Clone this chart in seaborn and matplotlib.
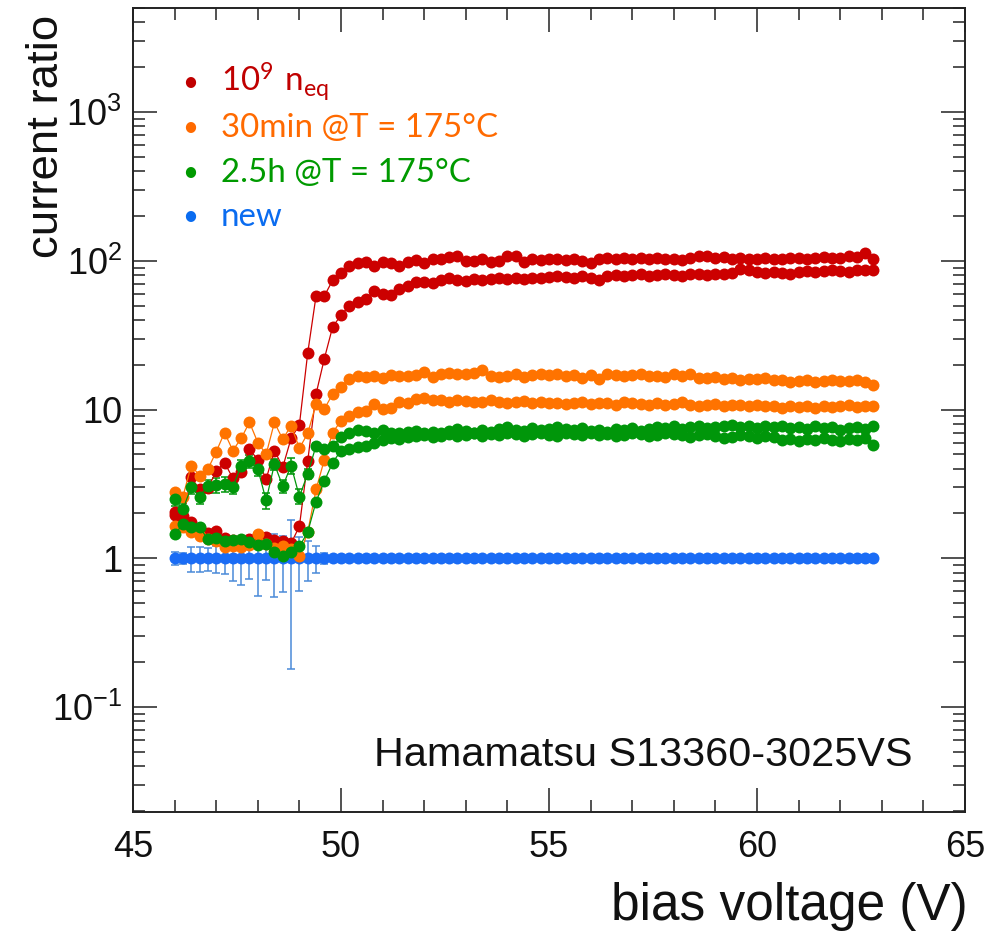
import numpy as np
import pandas as pd
import matplotlib
matplotlib.use("Agg")
import matplotlib.pyplot as plt
import matplotlib.ticker as mticker
from matplotlib import font_manager
import seaborn as sns

# ---------------- data ----------------
voltage = [46.0, 46.2, 46.4, 46.6, 46.8, 47.0, 47.2, 47.4, 47.6, 47.8,
           48.0, 48.2, 48.4, 48.6, 48.8, 49.0, 49.2, 49.4, 49.6, 49.8,
           50.0, 50.2, 50.4, 50.6, 50.8, 51.0, 51.2, 51.4, 51.6, 51.8,
           52.0, 52.2, 52.4, 52.6, 52.8, 53.0, 53.2, 53.4, 53.6, 53.8,
           54.0, 54.2, 54.4, 54.6, 54.8, 55.0, 55.2, 55.4, 55.6, 55.8,
           56.0, 56.2, 56.4, 56.6, 56.8, 57.0, 57.2, 57.4, 57.6, 57.8,
           58.0, 58.2, 58.4, 58.6, 58.8, 59.0, 59.2, 59.4, 59.6, 59.8,
           60.0, 60.2, 60.4, 60.6, 60.8, 61.0, 61.2, 61.4, 61.6, 61.8,
           62.0, 62.2, 62.4, 62.6, 62.8]

irrad_a = [2.04, 1.92, 3.5, 2.9, 2.96, 3.85, 4.4, 3.45, 3.8, 5.4,
           4.6, 3.4, 5.3, 4.1, 6.4, 7.9, 24, 58, 58, 74,
           83, 92, 97, 98, 92, 98, 96, 92, 98, 101,
           96, 103, 103, 106, 108, 100, 100, 102, 98, 100,
           108, 108, 98, 102, 101, 103, 102, 101, 103, 99,
           96, 103, 104, 103, 104, 102, 105, 103, 104, 102,
           103, 101, 104, 108, 107, 105, 106, 102, 104, 103,
           102, 104, 103, 102, 104, 105, 103, 104, 106, 104,
           105, 107, 106, 112, 103]
irrad_b = [1.95, 1.85, 1.75, 1.6, 1.47, 1.52, 1.36, 1.33, 1.3, 1.35,
           1.43, 1.38, 1.32, 1.3, 1.26, 1.64, 4.5, 12.7, 22, 36,
           43, 50, 53, 55, 63, 60, 59, 65, 68, 72,
           72, 71, 74, 76, 74, 73, 75, 74, 75, 76,
           75, 76, 75, 76, 77, 78, 79, 78, 77, 79,
           76, 74, 79, 80, 79, 80, 81, 79, 80, 81,
           80, 79, 81, 82, 80, 81, 82, 83, 88, 86,
           84, 83, 84, 83, 81, 84, 85, 84, 85, 86,
           85, 84, 86, 87, 87]
ann30_a = [2.78, 2.6, 4.2, 3.6, 3.97, 5.2, 7.0, 5.3, 6.4, 8.2,
           6.0, 5.0, 8.2, 6.3, 7.8, 5.5, 6.9, 10.9, 10.1, 12.7,
           14.2, 16.1, 16.8, 16.5, 16.8, 16.4, 17.0, 16.7, 16.9, 17.1,
           17.9, 16.5, 17.2, 17.6, 17.4, 17.3, 17.6, 18.5, 16.9, 16.5,
           16.9, 17.3, 16.6, 17.0, 17.4, 17.1, 17.2, 16.8, 17.0, 16.3,
           17.1, 16.1, 17.3, 17.1, 16.7, 17.0, 17.4, 16.8, 16.9, 16.6,
           17.2, 16.9, 17.2, 16.4, 16.2, 16.6, 16.0, 16.2, 15.8, 16.0,
           16.1, 16.3, 15.9, 15.7, 15.4, 15.6, 15.9, 15.3, 15.6, 15.9,
           15.5, 15.6, 15.8, 15.3, 14.7]
ann30_b = [1.64, 1.62, 1.5, 1.41, 1.35, 1.3, 1.19, 1.2, 1.19, 1.22,
           1.45, 1.25, 1.18, 1.2, 1.15, 1.03, 1.5, 2.9, 4.6, 7.0,
           8.4, 9.0, 9.6, 9.8, 10.9, 10.1, 10.3, 11.2, 11.1, 11.7,
           11.9, 11.6, 11.5, 11.3, 11.6, 11.4, 11.2, 11.3, 11.5, 11.2,
           11.0, 11.3, 11.4, 11.1, 11.3, 11.0, 11.1, 10.9, 11.0, 11.2,
           10.9, 11.1, 11.0, 10.8, 11.2, 11.0, 10.9, 10.7, 11.0, 10.8,
           10.9, 11.3, 10.8, 10.5, 10.8, 10.9, 10.6, 10.7, 10.8, 10.6,
           10.7, 10.5, 10.6, 10.3, 10.6, 10.4, 10.5, 10.3, 10.6, 10.4,
           10.5, 10.7, 10.4, 10.5, 10.6]
ann150_a = [2.5, 2.14, 3.0, 2.6, 3.06, 3.1, 3.15, 3.0, 4.2, 4.5,
            4.0, 2.45, 4.3, 3.05, 4.2, 2.6, 3.7, 5.7, 5.4, 5.7,
            6.5, 7.0, 7.3, 7.2, 7.0, 7.3, 7.0, 6.9, 7.1, 7.2,
            7.0, 7.1, 6.9, 7.2, 7.4, 7.2, 7.0, 7.3, 7.1, 7.4,
            7.6, 7.3, 7.2, 7.5, 7.3, 7.4, 7.6, 7.4, 7.3, 7.5,
            7.2, 7.3, 7.1, 7.4, 7.3, 7.5, 7.2, 7.4, 7.6, 7.5,
            7.7, 7.4, 7.6, 7.8, 7.5, 7.6, 7.7, 7.9, 7.6, 7.7,
            7.5, 7.8, 7.6, 7.7, 7.5, 7.6, 7.4, 7.7, 7.5, 7.6,
            7.3, 7.5, 7.6, 7.4, 7.7]
ann150_a_err = [0.25, 0.2, 0.3, 0.3, 0.3, 0.35, 0.35, 0.3, 0.4, 0.45,
                0.4, 0.3, 0.35, 0.3, 0.5, 0.3, 0.3, 0.3, 0.2, 0.1,
                0.1, 0.1, 0.1, 0.1, 0.1, 0.1, 0.1, 0.1, 0.1, 0.1,
                0.1, 0.1, 0.1, 0.1, 0.1, 0.1, 0.1, 0.1, 0.1, 0.1,
                0.1, 0.1, 0.1, 0.1, 0.1, 0.1, 0.1, 0.1, 0.1, 0.1,
                0.1, 0.1, 0.1, 0.1, 0.1, 0.1, 0.1, 0.1, 0.1, 0.1,
                0.1, 0.1, 0.1, 0.1, 0.1, 0.1, 0.1, 0.1, 0.1, 0.1,
                0.1, 0.1, 0.1, 0.1, 0.1, 0.1, 0.1, 0.1, 0.1, 0.1,
                0.1, 0.1, 0.1, 0.1, 0.1]
ann150_b = [1.45, 1.69, 1.62, 1.62, 1.34, 1.36, 1.3, 1.32, 1.34, 1.28,
            1.22, 1.24, 1.1, 1.03, 1.11, 1.2, 1.5, 2.4, 3.3, 4.4,
            5.3, 5.4, 5.6, 5.7, 6.0, 6.2, 6.4, 6.3, 6.5, 6.6,
            6.7, 6.5, 6.6, 6.8, 6.6, 6.7, 6.9, 6.6, 6.8, 6.7,
            6.9, 6.8, 6.6, 6.8, 6.9, 6.7, 6.6, 6.9, 6.8, 6.7,
            6.9, 6.7, 6.8, 6.6, 6.7, 6.9, 6.8, 6.6, 6.7, 6.9,
            6.8, 6.7, 6.5, 6.7, 6.8, 6.6, 6.4, 6.5, 6.7, 6.6,
            6.4, 6.6, 6.5, 6.2, 6.3, 6.1, 6.3, 6.2, 6.4, 6.2,
            6.1, 6.3, 6.2, 6.4, 5.8]
new = [1.0] * 85
new_err = [0.1, 0.08, 0.19, 0.19, 0.18, 0.2, 0.22, 0.3, 0.34, 0.27,
           0.44, 0.28, 0.45, 0.41, 0.82, 0.4, 0.3, 0.2, 0.08, 0.03,
           0.02, 0.02, 0.02, 0.02, 0.02, 0.02, 0.02, 0.02, 0.02, 0.02,
           0.02, 0.02, 0.02, 0.02, 0.02, 0.02, 0.02, 0.02, 0.02, 0.02,
           0.02, 0.02, 0.02, 0.02, 0.02, 0.02, 0.02, 0.02, 0.02, 0.02,
           0.02, 0.02, 0.02, 0.02, 0.02, 0.02, 0.02, 0.02, 0.02, 0.02,
           0.02, 0.02, 0.02, 0.02, 0.02, 0.02, 0.02, 0.02, 0.02, 0.02,
           0.02, 0.02, 0.02, 0.02, 0.02, 0.02, 0.02, 0.02, 0.02, 0.02,
           0.02, 0.02, 0.02, 0.02, 0.02]

legend_labels = [r"$10^{9}\ \mathregular{n}_{\mathregular{eq}}$",
                 "30min @T = 175°C", "2.5h @T = 175°C", "new"]
ytick_vals = [0.1, 1, 10, 100, 1000]
ytick_labels = [r"$10^{-1}$", "1", "10", r"$10^{2}$", r"$10^{3}$"]
xtick_vals = [45, 50, 55, 60, 65]

# ---------------- style ----------------
C_RED = "#cc0000"
C_ORANGE = "#ff7300"
C_GREEN = "#00960a"
C_BLUE = "#1a6cf5"
C_BLUE_ERR = "#4a8ad8"
TXT_RED = "#c00000"
TXT_ORANGE = "#ff6a00"
TXT_GREEN = "#009a00"
TXT_BLUE = "#0a6cf0"

sns.set_theme(style="ticks")
names = {f.name for f in font_manager.fontManager.ttflist}
AXFONT = "Liberation Sans Narrow" if "Liberation Sans Narrow" in names else "Liberation Sans"
LEGFONT = "Lato" if "Lato" in names else "DejaVu Sans"
plt.rcParams["font.family"] = [AXFONT, "DejaVu Sans"]
plt.rcParams["mathtext.default"] = "regular"

W, H = 989, 931
fig = plt.figure(figsize=(W / 100, H / 100), dpi=100)
L, R, T, B = 133, 965, 8, 812
ax = fig.add_axes([L / W, 1 - B / H, (R - L) / W, (B - T) / H])

# ---------------- data drawing ----------------
df = pd.DataFrame({"V": voltage})
series = [
    ("new", new, C_BLUE),
    ("irrad_a", irrad_a, C_RED), ("irrad_b", irrad_b, C_RED),
    ("ann30_a", ann30_a, C_ORANGE), ("ann30_b", ann30_b, C_ORANGE),
    ("ann150_a", ann150_a, C_GREEN), ("ann150_b", ann150_b, C_GREEN),
]
# blue error bars first
ax.errorbar(voltage, new, yerr=new_err, fmt="none", ecolor=C_BLUE_ERR,
            elinewidth=1.1, capsize=3.2, capthick=1.1, zorder=2)
for name, vals, col in series:
    df[name] = vals
    if name == "ann150_a":
        ax.errorbar(voltage, vals, yerr=ann150_a_err, fmt="none", ecolor=col,
                    elinewidth=1.1, capsize=3.2, capthick=1.1, zorder=3)
    sns.lineplot(data=df, x="V", y=name, ax=ax, color=col, marker="o",
                 markersize=8.6, markeredgewidth=0, linewidth=0.9,
                 estimator=None, sort=False, zorder=4)

ax.set_yscale("log")
ax.set_xlim(45, 65)
ax.set_ylim(0.0197, 5000)
ax.set_xlabel("")
ax.set_ylabel("")

ax.yaxis.set_major_locator(mticker.FixedLocator(ytick_vals))
ax.yaxis.set_major_formatter(mticker.FixedFormatter(ytick_labels))
ax.yaxis.set_minor_locator(mticker.LogLocator(base=10, subs=np.arange(2, 10), numticks=20))
ax.yaxis.set_minor_formatter(mticker.NullFormatter())
ax.xaxis.set_major_locator(mticker.FixedLocator(xtick_vals))
ax.xaxis.set_minor_locator(mticker.MultipleLocator(1))

for s in ax.spines.values():
    s.set_linewidth(1.4)
    s.set_color("#222222")
    s.set_visible(True)
ax.tick_params(which="both", direction="in", top=True, right=True,
               color="#222222", width=1.1)
ax.tick_params(which="major", length=17)
ax.tick_params(which="minor", length=8.5)
ax.tick_params(axis="y", which="major", pad=8, labelsize=26)
ax.tick_params(axis="x", which="major", pad=13, labelsize=26)
for lab in ax.get_xticklabels() + ax.get_yticklabels():
    lab.set_fontfamily([AXFONT, "DejaVu Sans"])
    lab.set_color("#111111")

# ---------------- texts ----------------
renderer = fig.canvas.get_renderer()

def fit_width(t, target_px):
    for _ in range(3):
        bb = t.get_window_extent(renderer=renderer)
        w = bb.width if t.get_rotation() == 0 else bb.height
        t.set_fontsize(t.get_fontsize() * target_px / w)

ylab = fig.text(47 / W, 1 - 15 / H, "current ratio", rotation=90,
                ha="center", va="top", fontsize=32, color="#111111")
fit_width(ylab, 243)
xlab = fig.text(968 / W, 1 - 920 / H, "bias voltage (V)", ha="right",
                va="baseline", fontsize=34, color="#111111")
fit_width(xlab, 356)
ham = fig.text(913 / W, 1 - 766 / H, "Hamamatsu S13360-3025VS", ha="right",
               va="baseline", fontsize=30, color="#111111")
fit_width(ham, 538)

# legend (text overlay with bullets)
leg_rows_y = [83, 128, 173, 217]
leg_cols = [TXT_RED, TXT_ORANGE, TXT_GREEN, TXT_BLUE]
leg_texts = []
for lab, yy, col in zip(legend_labels, leg_rows_y, leg_cols):
    fig.text(190 / W, 1 - yy / H, "•", ha="center", va="center",
             fontsize=20, color=col, family=[LEGFONT, "DejaVu Sans"])
    t = fig.text(221 / W, 1 - (yy + 9) / H, lab, ha="left", va="baseline",
                 fontsize=23.5, color=col, family=[LEGFONT, "DejaVu Sans"])
    leg_texts.append(t)
fit_width(leg_texts[1], 277)
for t in leg_texts:
    t.set_fontsize(leg_texts[1].get_fontsize())

fig.savefig("out.png", dpi=100, facecolor="white")
